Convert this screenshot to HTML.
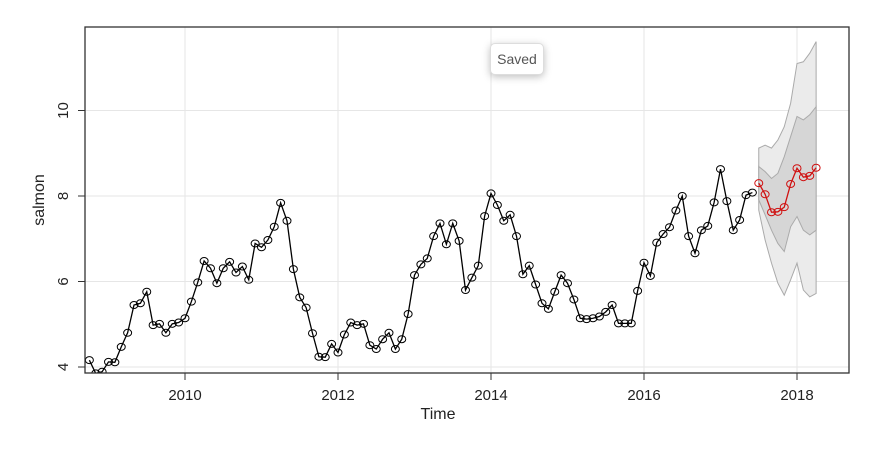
<!DOCTYPE html>
<html><head><meta charset="utf-8"><style>
body{margin:0;background:#fff;width:889px;height:456px;overflow:hidden;font-family:"Liberation Sans",sans-serif}
#tip{position:absolute;left:490px;top:43px;width:52px;height:30px;border:1px solid #ddd;border-radius:5px;background:#fff;box-shadow:0 2px 8px rgba(0,0,0,.25);font-size:14px;color:#555;text-align:center;line-height:30px}
</style></head><body>
<svg id="chart" width="889" height="456" xmlns="http://www.w3.org/2000/svg"></svg>
<div id="tip">Saved</div>
<script>
const startYear = 2008.75;
const observed = [4.16,3.85,3.89,4.12,4.11,4.47,4.80,5.45,5.49,5.76,4.98,5.01,4.80,5.01,5.04,5.14,5.53,5.98,6.48,6.31,5.96,6.31,6.46,6.21,6.35,6.04,6.89,6.80,6.97,7.28,7.84,7.42,6.29,5.63,5.39,4.79,4.24,4.23,4.54,4.34,4.76,
5.04,4.98,5.01,4.51,4.42,4.65,4.80,4.42,4.65,5.24,6.15,6.40,6.54,7.06,7.36,6.87,7.36,6.95,5.80,6.09,6.37,7.53,8.06,7.79,7.42,7.56,7.06,6.17,6.37,5.93,5.49,5.36,5.76,6.15,5.96,5.58,
5.14,5.12,5.14,5.18,5.29,5.45,5.02,5.02,5.02,5.78,6.44,6.13,6.91,7.11,7.27,7.66,8.00,7.06,6.66,7.20,7.30,7.85,8.63,7.88,7.20,7.44,8.02,8.08];
const forecast = [8.30,8.04,7.62,7.63,7.74,8.28,8.65,8.44,8.47,8.66];
const hi95 = [9.12,9.19,9.12,9.31,9.62,10.17,11.10,11.14,11.34,11.61];
const hi80 = [8.69,8.57,8.41,8.53,8.92,9.39,9.86,9.78,9.90,10.09];
const lo80 = [7.91,7.56,7.20,6.89,6.70,7.28,7.52,7.20,7.09,7.20];
const lo95 = [7.67,6.97,6.43,5.96,5.68,6.04,6.43,5.80,5.64,5.72];
const xTicks = [2010,2012,2014,2016,2018];
const yTicks = [4,6,8,10];

const svg=document.getElementById('chart');
const NS='http://www.w3.org/2000/svg';
const L=85,R=849,T=27,B=373;
const xs=t=>185+(t-2010)*76.5;
const ys=v=>367-(v-4)*42.75;
function mk(tag,at,p){const e=document.createElementNS(NS,tag);for(const k in at)e.setAttribute(k,at[k]);(p||svg).appendChild(e);return e;}
const clip=mk('clipPath',{id:'c'});mk('rect',{x:L,y:T,width:R-L,height:B-T},clip);
// grid
xTicks.forEach(t=>{const g=mk('line',{x1:xs(t),x2:xs(t),y1:T,y2:B,stroke:'#e6e6e6','stroke-width':1});

});
yTicks.forEach(v=>{const g=mk('line',{x1:L,x2:R,y1:ys(v),y2:ys(v),stroke:'#e6e6e6','stroke-width':1});

});
const plot=mk('g',{'clip-path':'url(#c)'});
const fx=i=>xs(startYear+(observed.length+i)/12);
function band(up,lo,fill,name){let d='';up.forEach((v,i)=>d+=(i?'L':'M')+fx(i)+' '+ys(v));
for(let i=lo.length-1;i>=0;i--)d+='L'+fx(i)+' '+ys(lo[i]);
const p=mk('path',{d:d+'Z',fill:fill,stroke:'#aaa','stroke-width':1},plot);

}
band(hi95,lo95,'#ebebeb','band-95');
band(hi80,lo80,'#d6d6d6','band-80');
function series(vals,off,col,name){const pts=vals.map((v,i)=>[xs(startYear+(off+i)/12),ys(v)]);
const pl=mk('polyline',{points:pts.map(p=>p.join(',')).join(' '),fill:'none',stroke:col,'stroke-width':1.3},plot);


pts.forEach(p=>{const c=mk('ellipse',{cx:p[0],cy:p[1],rx:4,ry:3.5,fill:'none',stroke:col,'stroke-width':1},plot);

});}
series(observed,0,'#000','observed');
series(forecast,observed.length,'#d01010','forecast');
// frame
const fr=mk('rect',{x:L,y:T,width:R-L,height:B-T,fill:'none',stroke:'#333','stroke-width':1.3});


xTicks.forEach(t=>{mk('line',{x1:xs(t),x2:xs(t),y1:B,y2:B+7,stroke:'#333'});
const tx=mk('text',{x:xs(t),y:400,'text-anchor':'middle','font-size':15,fill:'#222'});tx.textContent=t;

});
yTicks.forEach(v=>{mk('line',{x1:L-7,x2:L,y1:ys(v),y2:ys(v),stroke:'#333'});
const tx=mk('text',{x:0,y:0,'text-anchor':'middle','font-size':15,fill:'#222',transform:`translate(68,${ys(v)}) rotate(-90)`});tx.textContent=v;

});
const xt=mk('text',{x:438,y:419,'text-anchor':'middle','font-size':16,fill:'#222'});xt.textContent='Time';


const yt=mk('text',{x:0,y:0,'text-anchor':'middle','font-size':16,fill:'#222',transform:'translate(44,200) rotate(-90)'});yt.textContent='salmon';


</script>
</body></html>
